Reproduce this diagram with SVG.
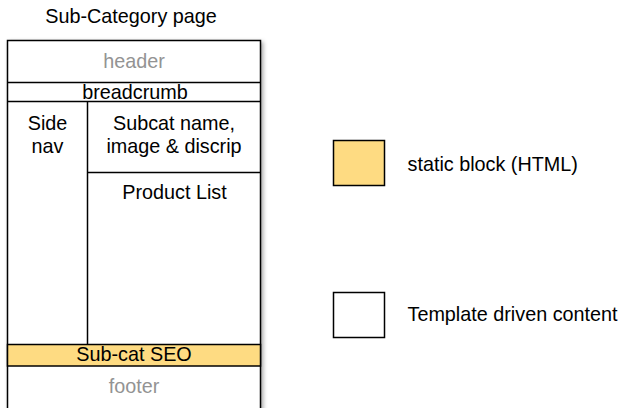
<svg xmlns="http://www.w3.org/2000/svg" width="621" height="408" viewBox="0 0 621 408">
<defs>
<filter id="sh" x="-10%" y="-10%" width="130%" height="130%">
<feDropShadow dx="2" dy="2" stdDeviation="2" flood-color="#000" flood-opacity="0.35"/>
</filter>
</defs>
<style>
text{font-family:"Liberation Sans",Arial,sans-serif;font-size:19.8px;fill:#000;text-anchor:middle}
.g{fill:#939393}
.l{text-anchor:start}
.box{fill:#fff;stroke:#000;stroke-width:1.5}
.st{fill:#fedb82;stroke:#000;stroke-width:1.5}
.ln{stroke:#000;stroke-width:1.5;fill:none}
</style>
<rect width="621" height="408" fill="#fff"/>
<text id="title" x="131" y="23">Sub-Category page</text>
<g id="page">
<rect class="box" x="7.5" y="40.5" width="253" height="380" filter="url(#sh)"/>
</g>
<g id="header">
<text class="g" x="134" y="68">header</text>
</g>
<g id="breadcrumb">
<line class="ln" x1="7.5" y1="82.5" x2="260.5" y2="82.5"/>
<text x="135" y="99">breadcrumb</text>
</g>
<g id="sidenav">
<line class="ln" x1="7.5" y1="101.5" x2="260.5" y2="101.5"/>
<line class="ln" x1="87.5" y1="101.5" x2="87.5" y2="344"/>
<text x="47.5" y="130">Side</text>
<text x="47.5" y="153">nav</text>
</g>
<g id="subcat">
<text x="174" y="130">Subcat name,</text>
<text x="174" y="153">image &amp; discrip</text>
</g>
<g id="productlist">
<line class="ln" x1="87.5" y1="172.5" x2="260.5" y2="172.5"/>
<text x="174.5" y="199">Product List</text>
</g>
<g id="seo">
<rect class="st" x="7.5" y="344.5" width="253" height="21.5"/>
<text x="134" y="361">Sub-cat SEO</text>
</g>
<g id="footer">
<text class="g" x="134" y="393">footer</text>
</g>
<g id="legend-static">
<rect class="st" x="333.5" y="140.5" width="51" height="45"/>
<text class="l" x="407.5" y="171">static block (HTML)</text>
</g>
<g id="legend-template">
<rect class="box" x="333.5" y="292.5" width="51" height="45"/>
<text class="l" x="407.5" y="321">Template driven content</text>
</g>
<g id="connectors"></g>
</svg>
